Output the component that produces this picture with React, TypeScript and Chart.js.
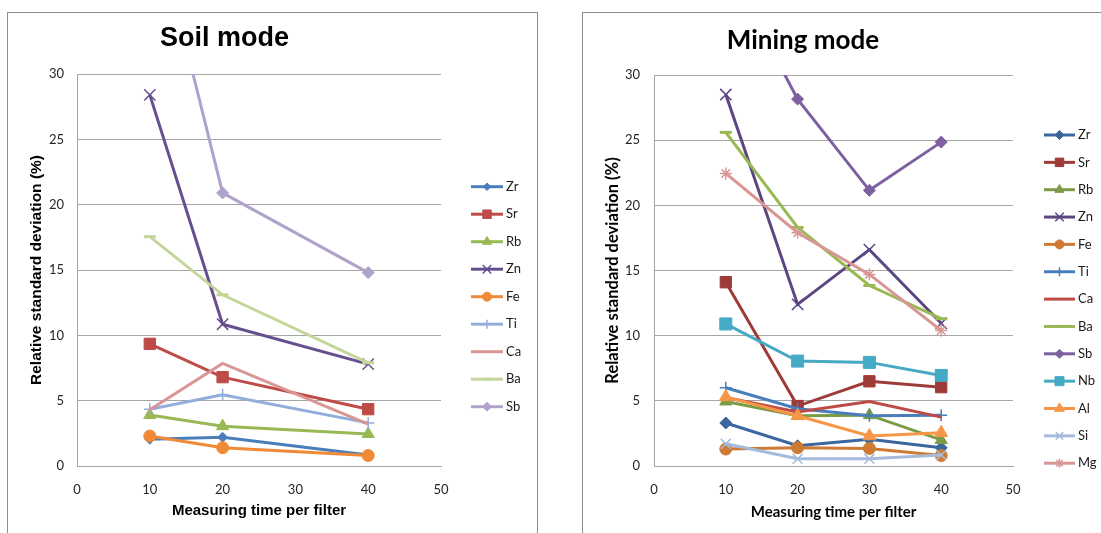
import React, { useEffect, useRef } from 'react';
import { Chart, registerables } from 'chart.js';
import { drawPoint } from 'chart.js/helpers';

Chart.register(...registerables);

// ---------- Data ----------
const xTickValues = [0, 10, 20, 30, 40, 50];
const yTickValues = [0, 5, 10, 15, 20, 25, 30];

// Soil mode
const soilTimes = [10, 20, 40];
const soilZr = [2.05, 2.2, 0.85];
const soilSr = [9.35, 6.8, 4.35];
const soilRb = [3.9, 3.05, 2.45];
const soilZn = [28.4, 10.85, 7.8];
const soilFe = [2.3, 1.4, 0.8];
const soilTi = [4.35, 5.45, 3.3];
const soilCa = [4.3, 7.85, 3.2];
const soilBa = [17.55, 13.1, 7.9];
const soilSb = [43.3, 20.9, 14.8];

// Mining mode
const miningTimes = [10, 20, 30, 40];
const miningZr = [3.3, 1.55, 2.05, 1.4];
const miningSr = [14.1, 4.6, 6.5, 6.05];
const miningRb = [4.95, 3.85, 3.9, 2.0];
const miningZn = [28.5, 12.4, 16.6, 10.95];
const miningFe = [1.3, 1.4, 1.35, 0.8];
const miningTi = [6.0, 4.4, 3.85, 3.9];
const miningCa = [5.25, 4.15, 4.95, 3.75];
const miningBa = [25.6, 18.3, 13.85, 11.3];
const miningSb = [38.6, 28.15, 21.15, 24.85];
const miningNb = [10.9, 8.05, 7.95, 6.95];
const miningAl = [5.3, 3.85, 2.3, 2.55];
const miningSi = [1.7, 0.55, 0.55, 0.85];
const miningMg = [22.45, 17.9, 14.7, 10.4];

type Series = { label: string; values: number[]; color: string; style: any; radius: number; bw?: number };

const soilSeries: Series[] = [
  { label: 'Zr', values: soilZr, color: '#4A7EBB', style: 'rectRot', radius: 5 },
  { label: 'Sr', values: soilSr, color: '#BE4B48', style: 'rect', radius: 8 },
  { label: 'Rb', values: soilRb, color: '#98B954', style: 'triangle', radius: 7 },
  { label: 'Zn', values: soilZn, color: '#654F8F', style: 'crossRot', radius: 8, bw: 1.5 },
  { label: 'Fe', values: soilFe, color: '#F08A36', style: 'circle', radius: 6 },
  { label: 'Ti', values: soilTi, color: '#93AEDA', style: 'cross', radius: 6, bw: 1.5 },
  { label: 'Ca', values: soilCa, color: '#DA9694', style: 'circle', radius: 0 },
  { label: 'Ba', values: soilBa, color: '#C4D79B', style: 'line', radius: 6, bw: 3 },
  { label: 'Sb', values: soilSb, color: '#B0A2CB', style: 'rectRot', radius: 6 },
];

const miningSeries: Series[] = [
  { label: 'Zr', values: miningZr, color: '#3B66A0', style: 'rectRot', radius: 6 },
  { label: 'Sr', values: miningSr, color: '#9E3B38', style: 'rect', radius: 8 },
  { label: 'Rb', values: miningRb, color: '#7C9B45', style: 'triangle', radius: 7 },
  { label: 'Zn', values: miningZn, color: '#5C4682', style: 'crossRot', radius: 8, bw: 1.5 },
  { label: 'Fe', values: miningFe, color: '#CE7A35', style: 'circle', radius: 6 },
  { label: 'Ti', values: miningTi, color: '#4A7EBB', style: 'cross', radius: 6, bw: 1.5 },
  { label: 'Ca', values: miningCa, color: '#BE4B48', style: 'circle', radius: 0 },
  { label: 'Ba', values: miningBa, color: '#98B954', style: 'line', radius: 6, bw: 3 },
  { label: 'Sb', values: miningSb, color: '#7D60A0', style: 'rectRot', radius: 6 },
  { label: 'Nb', values: miningNb, color: '#46AAC5', style: 'rect', radius: 8.5 },
  { label: 'Al', values: miningAl, color: '#F79646', style: 'triangle', radius: 7.5 },
  { label: 'Si', values: miningSi, color: '#A5BBDD', style: 'crossRot', radius: 7, bw: 1.5 },
  { label: 'Mg', values: miningMg, color: '#D99694', style: 'star', radius: 6, bw: 1.5 },
];

// ---------- Helpers ----------
function makeDatasets(times: number[], series: Series[]) {
  return series.map((s, i) => ({
    label: s.label,
    data: times.map((t, j) => ({ x: t, y: s.values[j] })),
    borderColor: s.color,
    backgroundColor: s.color,
    pointBackgroundColor: s.color,
    pointBorderColor: s.color,
    pointStyle: s.style,
    pointRadius: s.radius,
    pointBorderWidth: s.bw ?? 1,
    borderWidth: 3,
    tension: 0,
    order: series.length - i,
  }));
}

const excelLegend = {
  id: 'excelLegend',
  afterDraw(chart: any, _args: any, opts: any) {
    const ctx = chart.ctx;
    ctx.save();
    chart.data.datasets.forEach((ds: any, i: number) => {
      const y = opts.y0 + i * opts.dy;
      ctx.strokeStyle = ds.borderColor;
      ctx.lineWidth = 3;
      ctx.lineCap = 'butt';
      ctx.beginPath();
      ctx.moveTo(opts.x1, y);
      ctx.lineTo(opts.x2, y);
      ctx.stroke();
      if (ds.pointRadius > 0) {
        ctx.fillStyle = ds.pointBackgroundColor;
        ctx.strokeStyle = ds.pointBorderColor;
        ctx.lineWidth = ds.pointBorderWidth;
        drawPoint(
          ctx,
          { pointStyle: ds.pointStyle, rotation: 0, radius: ds.pointRadius * 0.75, borderWidth: ds.pointBorderWidth },
          (opts.x1 + opts.x2) / 2,
          y
        );
      }
      ctx.fillStyle = '#1a1a1a';
      ctx.font = opts.font;
      ctx.textBaseline = 'middle';
      ctx.textAlign = 'left';
      ctx.fillText(ds.label, opts.textX, y);
    });
    ctx.restore();
  },
};

type Layout = {
  title: string;
  titleFont: any;
  titlePad: { top: number; bottom: number };
  axisFont: string;
  xTitleSize: number;
  yTitleSize: number;
  tickFont: string;
  yAxisWidth: number;
  yTitlePad: number;
  yTickPad: number;
  xAxisHeight: number;
  xTickPad: number;
  xTitlePad: number;
  padRight: number;
  legend: any;
};

function makeConfig(times: number[], series: Series[], L: Layout): any {
  return {
    type: 'line',
    data: { datasets: makeDatasets(times, series) },
    plugins: [excelLegend],
    options: {
      responsive: false,
      animation: false,
      events: [],
      layout: { padding: { top: 0, left: 0, bottom: 0, right: L.padRight } },
      plugins: {
        legend: { display: false },
        tooltip: { enabled: false },
        title: {
          display: true,
          text: L.title,
          color: '#000',
          font: L.titleFont,
          padding: L.titlePad,
        },
        excelLegend: L.legend,
      },
      scales: {
        x: {
          type: 'linear',
          min: 0,
          max: 50,
          afterBuildTicks: (axis: any) => {
            axis.ticks = xTickValues.map((v) => ({ value: v }));
          },
          afterFit: (axis: any) => {
            axis.height = L.xAxisHeight;
          },
          grid: { display: false, drawTicks: false },
          border: { display: true, color: '#A6A6A6', width: 1 },
          ticks: { padding: L.xTickPad, color: '#262626', font: { family: L.tickFont, size: 13 }, maxRotation: 0 },
          title: {
            display: true,
            text: 'Measuring time per filter',
            color: '#000',
            font: { family: L.axisFont, size: L.xTitleSize, weight: 'bold' },
            padding: { top: 0, bottom: L.xTitlePad },
          },
        },
        y: {
          type: 'linear',
          min: 0,
          max: 30,
          afterBuildTicks: (axis: any) => {
            axis.ticks = yTickValues.map((v) => ({ value: v }));
          },
          afterFit: (axis: any) => {
            axis.width = L.yAxisWidth;
          },
          grid: { display: true, drawTicks: false, color: '#A6A6A6', lineWidth: 1 },
          border: { display: true, color: '#A6A6A6', width: 1 },
          ticks: { padding: L.yTickPad, color: '#262626', font: { family: L.tickFont, size: 13 } },
          title: {
            display: true,
            text: 'Relative standard deviation (%)',
            color: '#000',
            font: { family: L.axisFont, size: L.yTitleSize, weight: 'bold', lineHeight: 1.2 },
            padding: { top: L.yTitlePad, bottom: 0 },
          },
        },
      },
    },
  };
}

const soilLayout: Layout = {
  title: 'Soil mode',
  titleFont: { family: '"Liberation Sans", Arial, sans-serif', size: 27, weight: 'bold', lineHeight: 1.2 },
  titlePad: { top: 9.8, bottom: 18.8 },
  axisFont: '"Liberation Sans", Arial, sans-serif',
  xTitleSize: 15,
  yTitleSize: 15.5,
  tickFont: 'Lato, sans-serif',
  yAxisWidth: 69,
  yTitlePad: 19,
  yTickPad: 13,
  xAxisHeight: 67,
  xTickPad: 16,
  xTitlePad: 13,
  padRight: 95,
  legend: { x1: 463, x2: 495, textX: 498, y0: 173.7, dy: 27.5, font: '13px Lato, sans-serif' },
};

const miningLayout: Layout = {
  title: 'Mining mode',
  titleFont: { family: 'Lato, sans-serif', size: 26, weight: 'bold', lineHeight: 1.2 },
  titlePad: { top: 12, bottom: 18.8 },
  axisFont: 'Lato, sans-serif',
  xTitleSize: 15,
  yTitleSize: 16.5,
  tickFont: 'Lato, sans-serif',
  yAxisWidth: 61,
  yTitlePad: 10,
  yTickPad: 14,
  xAxisHeight: 67,
  xTickPad: 16,
  xTitlePad: 12,
  padRight: 88,
  legend: { x1: 451, x2: 482, textX: 485, y0: 122, dy: 27.35, font: '13px Lato, sans-serif' },
};

function ChartCanvas(props: { times: number[]; series: Series[]; layout: Layout; left: number; width: number }) {
  const ref = useRef<HTMLCanvasElement | null>(null);
  useEffect(() => {
    if (!ref.current) return;
    const chart = new Chart(ref.current, makeConfig(props.times, props.series, props.layout));
    return () => chart.destroy();
  }, []);
  return (
    <canvas
      ref={ref}
      width={props.width}
      height={520}
      style={{ position: 'absolute', left: props.left, top: 13, width: props.width, height: 520, display: 'block' }}
    />
  );
}

export default function App() {
  return (
    <div
      style={{
        position: 'fixed',
        left: 0,
        top: 0,
        width: 1101,
        height: 533,
        overflow: 'hidden',
        background: '#fff',
      }}
    >
      <div
        style={{
          position: 'absolute',
          left: 7,
          top: 12,
          width: 531,
          height: 540,
          border: '1px solid #8C8C8C',
          boxSizing: 'border-box',
        }}
      />
      <div
        style={{
          position: 'absolute',
          left: 582,
          top: 12,
          width: 540,
          height: 540,
          border: '1px solid #8C8C8C',
          boxSizing: 'border-box',
        }}
      />
      <ChartCanvas times={soilTimes} series={soilSeries} layout={soilLayout} left={8} width={528} />
      <ChartCanvas times={miningTimes} series={miningSeries} layout={miningLayout} left={593} width={508} />
    </div>
  );
}
